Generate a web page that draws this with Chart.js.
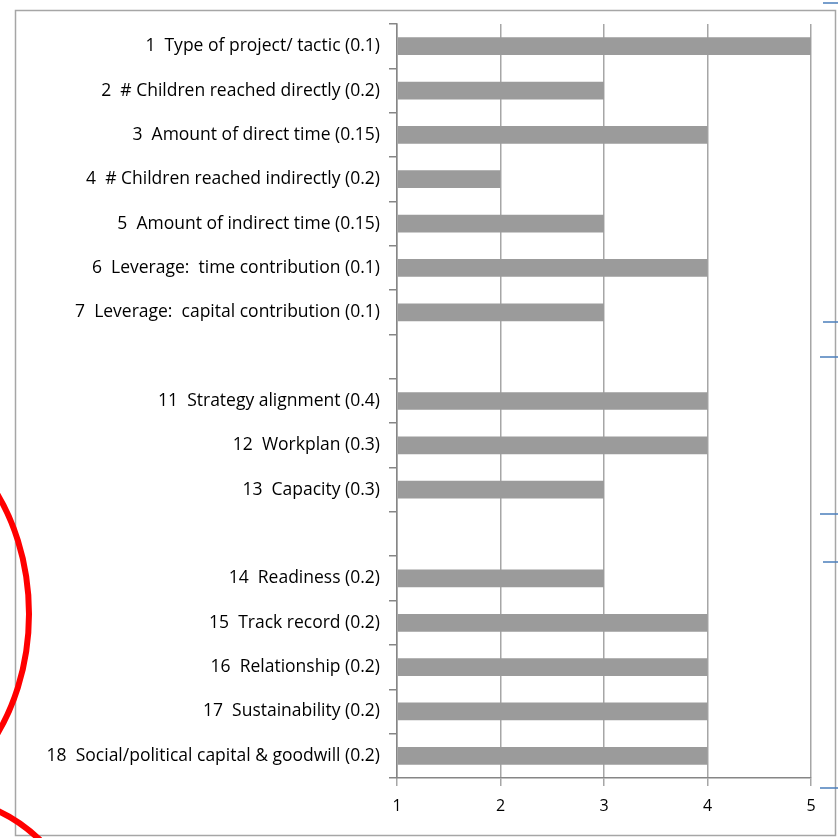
<!DOCTYPE html>
<html>
<head>
<meta charset="utf-8">
<script src="https://cdn.jsdelivr.net/npm/chart.js@4"></script>
<style>
  body { margin: 0; background: #fff; }
  canvas { display: block; }
</style>
</head>
<body>
<canvas id="scoreChart" width="838" height="838"></canvas>
<script>
const categories = [
  "1  Type of project/ tactic (0.1)",
  "2  # Children reached directly (0.2)",
  "3  Amount of direct time (0.15)",
  "4  # Children reached indirectly (0.2)",
  "5  Amount of indirect time (0.15)",
  "6  Leverage:  time contribution (0.1)",
  "7  Leverage:  capital contribution (0.1)",
  "",
  "11  Strategy alignment (0.4)",
  "12  Workplan (0.3)",
  "13  Capacity (0.3)",
  "",
  "14  Readiness (0.2)",
  "15  Track record (0.2)",
  "16  Relationship (0.2)",
  "17  Sustainability (0.2)",
  "18  Social/political capital & goodwill (0.2)"
];
const scores = [5, 3, 4, 2, 3, 4, 3, null, 4, 4, 3, null, 3, 4, 4, 4, 4];
const xTicks = [1, 2, 3, 4, 5];

// frame around the chart plus the stray marks that sit on the page
const decorations = {
  id: 'decorations',
  beforeDraw(chart) {
    const c = chart.ctx;
    c.save();
    c.fillStyle = '#fff';
    c.fillRect(0, 0, chart.width, chart.height);
    c.strokeStyle = '#a6a6a6';
    c.lineWidth = 1.5;
    c.strokeRect(15.5, 10.5, 820, 825);
    c.restore();
  },
  afterDraw(chart) {
    const c = chart.ctx;
    c.save();
    c.strokeStyle = '#4a7ebb';
    c.lineWidth = 1.5;
    [[823, 3], [823, 322], [820, 357], [820, 514], [823, 562], [820, 788]].forEach(([x, y]) => {
      c.beginPath();
      c.moveTo(x, y);
      c.lineTo(838, y);
      c.stroke();
    });
    c.strokeStyle = '#ff0000';
    c.lineWidth = 6;
    c.beginPath();
    c.ellipse(-130, 614, 159, 200, 0, -Math.PI / 2, Math.PI / 2);
    c.stroke();
    c.beginPath();
    c.moveTo(-2, 811);
    c.quadraticCurveTo(20, 821, 40, 840);
    c.stroke();
    c.restore();
  }
};

const ctx = document.getElementById('scoreChart').getContext('2d');

new Chart(ctx, {
  type: 'bar',
  data: {
    labels: categories,
    datasets: [{
      data: scores,
      base: 1,
      backgroundColor: '#9b9b9b',
      categoryPercentage: 1,
      barPercentage: 0.4
    }]
  },
  options: {
    indexAxis: 'y',
    responsive: false,
    animation: false,
    layout: { padding: { top: 24, right: 27, left: 0, bottom: 0 } },
    plugins: {
      legend: { display: false },
      tooltip: { enabled: false }
    },
    scales: {
      x: {
        min: 1,
        max: 5,
        afterBuildTicks: axis => { axis.ticks = xTicks.map(v => ({ value: v })); },
        afterFit: axis => { axis.height = 60; },
        grid: { color: '#a6a6a6', lineWidth: 1.5, tickLength: 8 },
        border: { color: '#868686', width: 1.5 },
        ticks: {
          color: '#000',
          padding: 11,
          font: { family: 'Open Sans', size: 16 }
        }
      },
      y: {
        afterFit: axis => { axis.width = 397; },
        grid: { offset: true, drawOnChartArea: false, color: '#868686', lineWidth: 1.5, tickLength: 8 },
        border: { color: '#868686', width: 1.5 },
        ticks: {
          color: '#000',
          padding: 9,
          autoSkip: false,
          font: { family: 'Open Sans', size: 17.5 }
        }
      }
    }
  },
  plugins: [decorations]
});
</script>
</body>
</html>
